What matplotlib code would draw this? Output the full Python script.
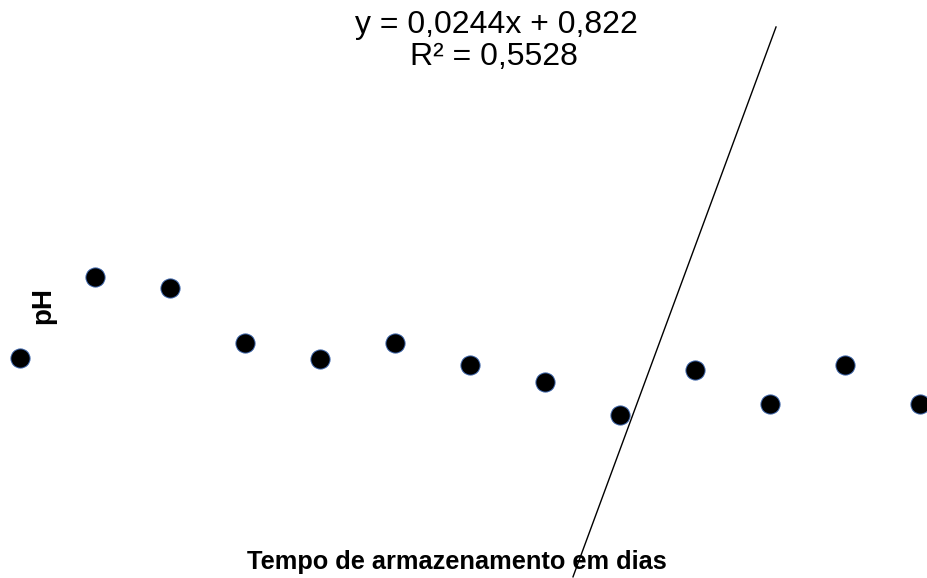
import matplotlib.pyplot as plt

plt.rcParams['font.family'] = ['Liberation Sans', 'DejaVu Sans']

# dias de armazenamento (posicao no eixo) e pH
dias = [0, 1, 2, 3, 4, 5, 6, 7, 8, 9, 10, 11, 12]
ph = [4.071, 4.281, 4.253, 4.110, 4.068, 4.110, 4.053, 4.009, 3.923, 4.040, 3.952, 4.053, 3.952]

# linha de tendencia como aparece no grafico original
trend_x = [7.373, 10.08]
trend_y = [3.503, 4.930]

eq_lines = ["y = 0,0244x + 0,822", "R² = 0,5528"]

fig = plt.figure(figsize=(9.27, 5.78), dpi=100)
ax = fig.add_axes([0, 0, 1, 1])
ax.set_xlim(-0.2667, 12.093)
ax.set_ylim(3.5, 5.0)
ax.axis("off")

ax.plot(trend_x, trend_y, color="black", linewidth=1.0)
ax.plot(dias, ph, linestyle="none", marker="o", markersize=13.8,
        markerfacecolor="black", markeredgecolor="#3B63A8", markeredgewidth=0.7,
        clip_on=False)

# rotulo da linha de tendencia (duas linhas)
fig.text(496.5/927, 1 - 33/578, eq_lines[0], ha="center", va="baseline", fontsize=23)
fig.text(494/927, 1 - 65/578, eq_lines[1], ha="center", va="baseline", fontsize=23)

fig.text(457/927, 1 - 569/578, "Tempo de armazenamento em dias", ha="center", va="baseline",
         fontsize=18.3, fontweight="bold")
fig.text(43/927, 1 - 305/578, "pH", ha="center", va="center", rotation=90,
         fontsize=20, fontweight="bold")

plt.savefig("out.png", dpi=100)
